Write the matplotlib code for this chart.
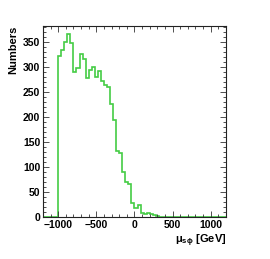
import numpy as np
import matplotlib
matplotlib.use("Agg")
import matplotlib.pyplot as plt
from matplotlib.ticker import MultipleLocator

# histogram: 60 bins of 40 GeV from -1200 to 1200
bin_lo = -1200
bin_hi = 1200
bin_width = 40
counts = [0, 0, 0, 0, 0,
          322, 333, 350, 365, 347, 290, 298, 326, 315, 277,
          293, 299, 279, 292, 271, 263, 259, 225, 193, 131,
          128, 90, 70, 67, 28, 18, 25, 9, 7, 9,
          6, 4, 2, 1,
          0, 0, 0, 0, 0, 0, 0, 1, 0, 0,
          0, 0, 0, 0, 0, 0, 0, 0, 0, 0, 0]
x_ticks = [-1000, -500, 0, 500, 1000]
y_ticks = [0, 50, 100, 150, 200, 250, 300, 350]

plt.rcParams['font.family'] = ['Liberation Sans', 'DejaVu Sans']

fig = plt.figure(figsize=(2.70, 2.59), dpi=100)
ax = fig.add_axes([0.159, 0.162, 0.678, 0.738])

edges = np.arange(bin_lo, bin_hi + 1, bin_width)
ax.stairs(counts, edges, color='#44cc44', linewidth=1.2)

ax.set_xlim(bin_lo, bin_hi)
ax.set_ylim(0, 382)
ax.set_xticks(x_ticks)
ax.set_yticks(y_ticks)
ax.xaxis.set_minor_locator(MultipleLocator(100))
ax.yaxis.set_minor_locator(MultipleLocator(10))

ax.tick_params(which='both', direction='in', top=True, right=True, colors='#333333',
               labelsize=7.5, width=0.6, pad=2)
ax.tick_params(which='major', length=4.5)
ax.tick_params(which='minor', length=2.3)
for lab in ax.get_xticklabels() + ax.get_yticklabels():
    lab.set_fontweight('bold')
    lab.set_color('black')
for s in ax.spines.values():
    s.set_linewidth(0.8)
    s.set_color('#222222')

ax.set_ylabel('Numbers', fontsize=8, fontweight='bold', loc='top', labelpad=3)
ax.set_xlabel(r'$\mathregular{\mu_{s\phi}}$ [GeV]', fontsize=8, fontweight='bold',
              loc='right', labelpad=2)

fig.savefig('out.png', dpi=100)
